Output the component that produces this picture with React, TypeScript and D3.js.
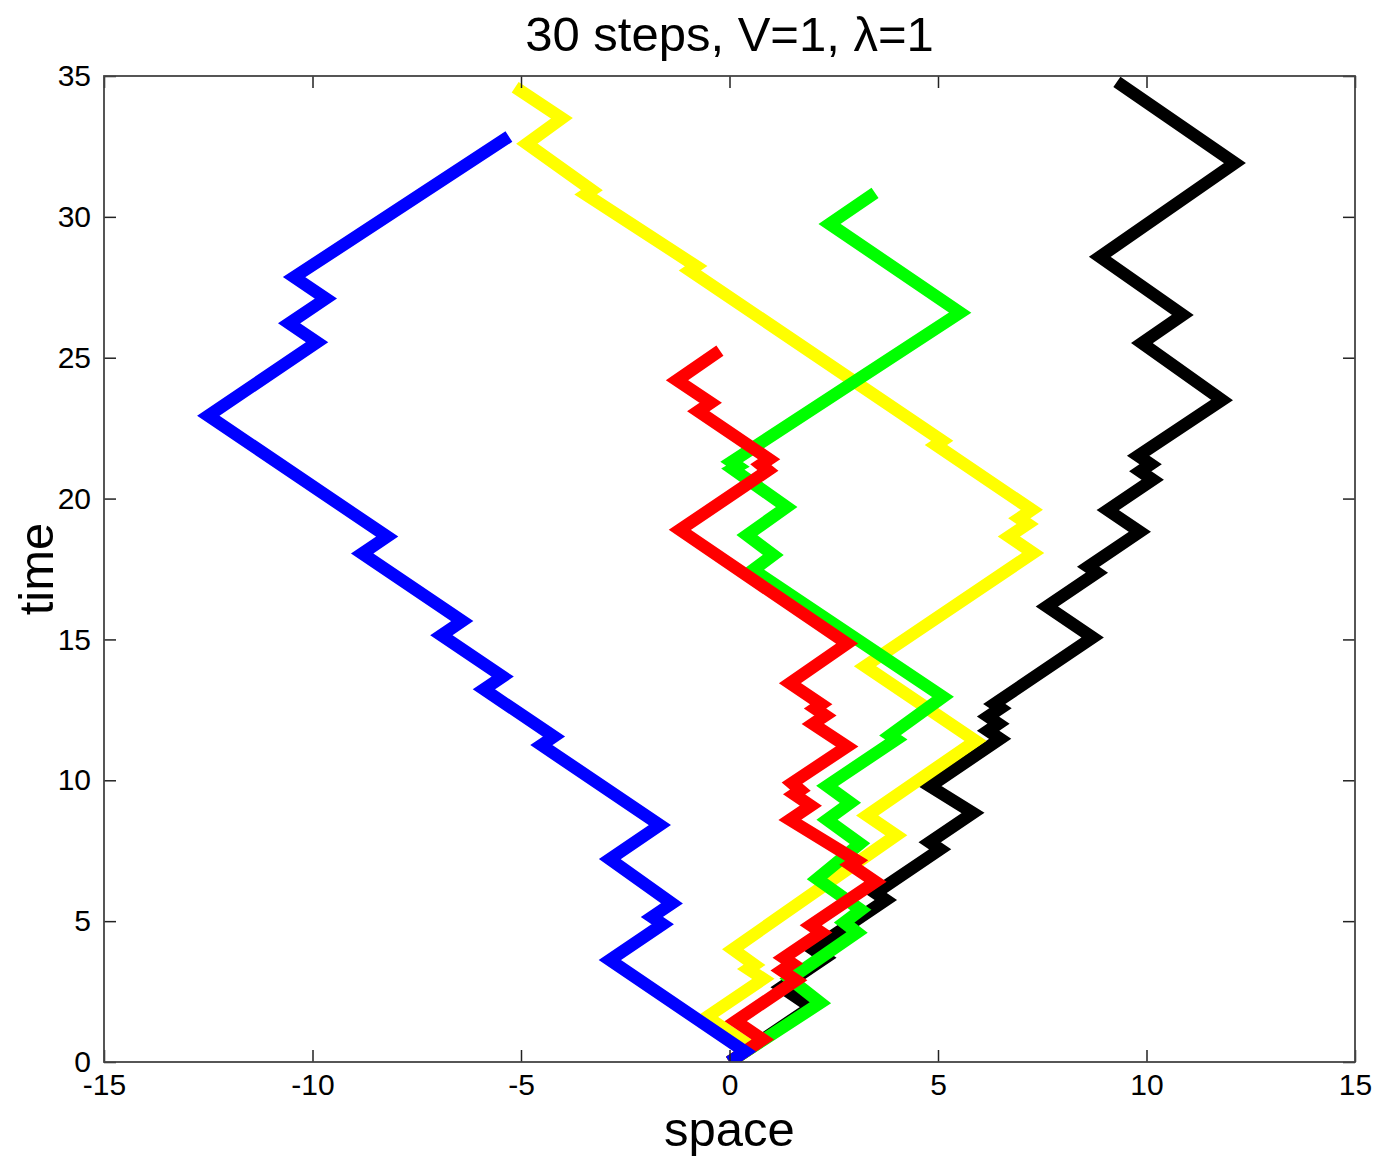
import React, { useRef, useEffect } from "react";
import * as d3 from "d3";

// tick values
const xTicks = [-15, -10, -5, 0, 5, 10, 15];
const yTicks = [0, 5, 10, 15, 20, 25, 30, 35];

// [space, time] vertices of each walk
const blackWalk = [
  [0, 0], [1.95, 1.95], [1.25, 2.65], [2.3, 3.7], [2.0, 4.0], [3.75, 5.75], [3.5, 6.0],
  [5.05, 7.55], [4.8, 7.8], [5.84, 8.84], [4.81, 9.79], [6.49, 11.47], [6.2, 11.76],
  [6.45, 12.01], [6.2, 12.26], [6.5, 12.56], [6.35, 12.71], [8.71, 15.07], [7.61, 16.17],
  [8.81, 17.37], [8.6, 17.58], [9.84, 18.82], [9.07, 19.59], [10.15, 20.67], [9.85, 20.97],
  [10.1, 21.22], [9.8, 21.52], [11.81, 23.5], [9.89, 25.52], [10.87, 26.52], [8.88, 28.58],
  [12.12, 31.91], [9.29, 34.79],
];

const yellowWalk = [
  [0, 0], [0.53, 0.53], [-0.54, 1.6], [0.81, 2.95], [0.45, 3.3], [0.6, 3.45], [0.08, 4.0],
  [4.0, 8.05], [3.3, 8.75], [5.9, 11.4], [3.25, 14.05], [7.28, 18.07], [6.7, 18.65],
  [7.15, 19.1], [6.95, 19.3], [7.25, 19.6], [4.95, 21.9], [5.1, 22.05], [-0.95, 28.1],
  [-0.8, 28.25], [-3.45, 30.8], [-3.3, 30.95], [-4.86, 32.6], [-4.02, 33.5], [-5.14, 34.6],
];

const greenWalk = [
  [0, 0], [2.18, 2.1], [1.45, 2.95], [3.06, 4.6], [2.75, 4.95], [3.15, 5.4], [2.1, 6.5],
  [3.13, 7.75], [2.34, 8.6], [2.9, 9.2], [2.34, 9.8], [4.0, 11.45], [3.85, 11.6],
  [5.12, 12.96], [0.57, 17.47], [1.05, 18.0], [0.42, 18.7], [1.37, 19.7], [0.08, 21.05],
  [0.2, 21.15], [0.05, 21.3], [5.53, 26.6], [2.4, 29.75], [3.49, 30.85],
];

const redWalk = [
  [0, 0], [0.8, 0.8], [0.15, 1.45], [1.6, 2.9], [1.25, 3.25], [1.5, 3.5], [1.3, 3.7],
  [2.2, 4.6], [1.95, 4.85], [3.5, 6.4], [2.9, 7.0], [3.05, 7.15], [1.45, 8.6], [1.95, 9.1],
  [1.55, 9.5], [1.7, 9.65], [1.5, 9.9], [2.82, 11.2], [2.0, 12.0], [2.3, 12.3], [2.05, 12.55],
  [2.2, 12.7], [1.45, 13.45], [2.82, 14.85], [-1.19, 18.89], [0.92, 21.0], [0.75, 21.2],
  [0.95, 21.4], [-0.75, 23.1], [-0.45, 23.4], [-1.26, 24.2], [-0.23, 25.25],
];

const blueWalk = [
  [0, 0], [0.37, 0.37], [-2.87, 3.62], [-1.6, 4.89], [-1.86, 5.15], [-1.38, 5.63],
  [-2.87, 7.2], [-1.67, 8.41], [-4.51, 11.25], [-4.21, 11.55], [-5.89, 13.23], [-5.44, 13.68],
  [-6.91, 15.15], [-6.41, 15.65], [-8.81, 18.05], [-8.21, 18.65], [-12.5, 22.94],
  [-9.89, 25.55], [-10.56, 26.22], [-9.68, 27.1], [-10.44, 27.86], [-5.29, 32.85],
];

const walks = [
  { color: "#000000", points: blackWalk },
  { color: "#ffff00", points: yellowWalk },
  { color: "#00ff00", points: greenWalk },
  { color: "#ff0000", points: redWalk },
  { color: "#0000ff", points: blueWalk },
];

const width = 1375;
const height = 1160;
const margin = { top: 76, right: 20, bottom: 98, left: 104 };
const font = "'Liberation Sans', Arial, Helvetica, sans-serif";

const App = () => {
  const svgRef = useRef(null);

  useEffect(() => {
    d3.select(svgRef.current).selectAll("*").remove();
    const svg = d3.select(svgRef.current);

    const x = d3.scaleLinear().domain([-15, 15]).range([margin.left, width - margin.right]);
    const y = d3.scaleLinear().domain([0, 35]).range([height - margin.bottom, margin.top]);
    const plain = d => String(d); // hyphen minus, like the original

    svg.append("rect").attr("width", width).attr("height", height).attr("fill", "#fff");

    svg.append("clipPath").attr("id", "plot-clip")
      .append("rect")
      .attr("x", x(-15)).attr("y", y(35))
      .attr("width", x(15) - x(-15)).attr("height", y(0) - y(35));

    const line = d3.line()
      .x(d => x(d[0]))
      .y(d => y(d[1]));

    svg.append("g")
      .attr("clip-path", "url(#plot-clip)")
      .selectAll("path")
      .data(walks)
      .enter()
      .append("path")
      .attr("d", d => line(d.points))
      .attr("fill", "none")
      .attr("stroke", d => d.color)
      .attr("stroke-width", 12.5)
      .attr("stroke-linejoin", "miter")
      .attr("stroke-linecap", "butt");

    const styleAxis = (g, hideLabels) => {
      g.select(".domain").remove();
      g.selectAll("line").attr("stroke", "#222").attr("stroke-width", 1.5);
      g.selectAll("text")
        .attr("fill", "#000")
        .style("font-family", font)
        .style("font-size", "30px");
      if (hideLabels) g.selectAll("text").remove();
    };

    svg.append("g")
      .attr("transform", `translate(0, ${y(0)})`)
      .call(d3.axisBottom(x).tickValues(xTicks).tickFormat(plain).tickSizeInner(-12).tickSizeOuter(0).tickPadding(12))
      .call(g => styleAxis(g, false));

    svg.append("g")
      .attr("transform", `translate(0, ${y(35)})`)
      .call(d3.axisTop(x).tickValues(xTicks).tickSizeInner(-12).tickSizeOuter(0))
      .call(g => styleAxis(g, true));

    svg.append("g")
      .attr("transform", `translate(${x(-15)}, 0)`)
      .call(d3.axisLeft(y).tickValues(yTicks).tickFormat(plain).tickSizeInner(-12).tickSizeOuter(0).tickPadding(13))
      .call(g => styleAxis(g, false));

    svg.append("g")
      .attr("transform", `translate(${x(15)}, 0)`)
      .call(d3.axisRight(y).tickValues(yTicks).tickSizeInner(-12).tickSizeOuter(0))
      .call(g => styleAxis(g, true));

    svg.append("rect")
      .attr("x", x(-15)).attr("y", y(35))
      .attr("width", x(15) - x(-15)).attr("height", y(0) - y(35))
      .attr("fill", "none")
      .attr("stroke", "#444")
      .attr("stroke-width", 1.8);

    svg.append("text")
      .attr("x", (x(-15) + x(15)) / 2)
      .attr("y", 51)
      .attr("text-anchor", "middle")
      .style("font-family", font)
      .style("font-size", "49px")
      .text("30 steps, V=1, λ=1");

    svg.append("text")
      .attr("x", (x(-15) + x(15)) / 2)
      .attr("y", 1146)
      .attr("text-anchor", "middle")
      .style("font-family", font)
      .style("font-size", "49px")
      .text("space");

    svg.append("text")
      .attr("transform", `translate(53, ${(y(0) + y(35)) / 2}) rotate(-90)`)
      .attr("text-anchor", "middle")
      .style("font-family", font)
      .style("font-size", "49px")
      .text("time");
  }, []);

  return (
    <svg
      ref={svgRef}
      width={width}
      height={height}
      style={{ position: "absolute", left: 0, top: 0 }}
    ></svg>
  );
};

export default App;
